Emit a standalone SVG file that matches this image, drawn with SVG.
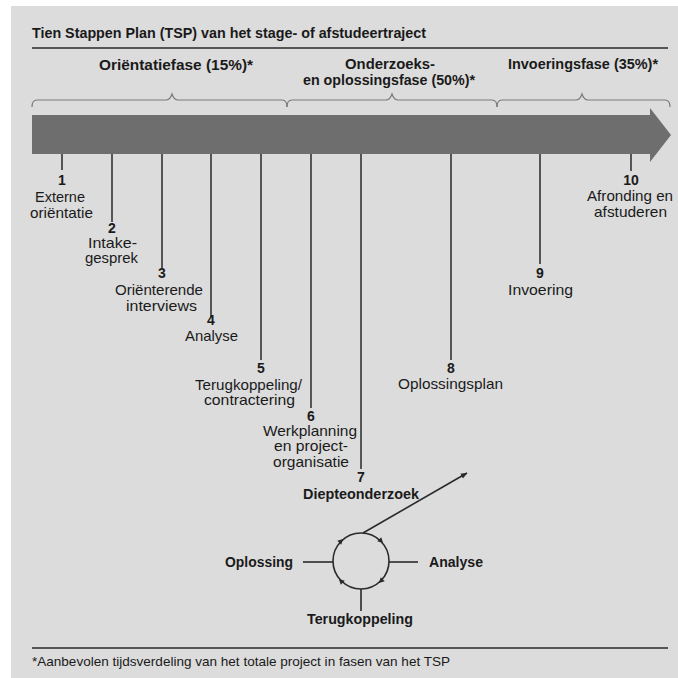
<svg xmlns="http://www.w3.org/2000/svg" width="678" height="678" viewBox="0 0 678 678">
<style>
text{font-family:"Liberation Sans","Noto Sans",sans-serif;fill:#1a1a1a}
.t{font-size:15px;font-weight:bold}
.l{font-size:14.5px}
.n{font-size:14px;font-weight:bold;text-anchor:middle}
.b{font-size:14.5px;font-weight:bold}
.f{font-size:13px}
.tick{stroke:#555;stroke-width:2;fill:none}
.brace{stroke:#7a7a7a;stroke-width:1.2;fill:none}
.rule{stroke:#555;stroke-width:2.2}
.cl{stroke:#2a2a2a;stroke-width:1.6;fill:none}
.ah{fill:#2a2a2a}
</style>
<defs>
<marker id="arr" viewBox="0 0 10 10" refX="9" refY="5" markerWidth="7" markerHeight="7" orient="auto" markerUnits="userSpaceOnUse">
<path d="M0,1 L10,5 L0,9 Z" fill="#2a2a2a"/>
</marker>
<path id="tri" d="M3,0 L-2.5,-2.8 L-2.5,2.8 Z"/>
</defs>
<rect x="0" y="0" width="678" height="678" fill="#ffffff"/>
<rect x="11" y="6" width="667" height="672" fill="#dcdcdc"/>

<g id="title">
<text class="t" x="32" y="38" textLength="394" lengthAdjust="spacingAndGlyphs">Tien Stappen Plan (TSP) van het stage- of afstudeertraject</text>
<line class="rule" x1="32" y1="48" x2="668" y2="48"/>
</g>

<g id="phases">
<text class="t" x="99" y="70" textLength="154" lengthAdjust="spacingAndGlyphs">Oriëntatiefase (15%)*</text>
<text class="t" x="345" y="69" textLength="90" lengthAdjust="spacingAndGlyphs">Onderzoeks-</text>
<text class="t" x="303" y="85" textLength="172" lengthAdjust="spacingAndGlyphs">en oplossingsfase (50%)*</text>
<text class="t" x="508" y="69" textLength="150" lengthAdjust="spacingAndGlyphs">Invoeringsfase (35%)*</text>
<path class="brace" d="M32,107 Q32,100 37,100 L166,100 Q170,100 172,94 Q174,100 178,100 L282,100 Q287,100 287,107"/>
<path class="brace" d="M287,107 Q287,100 292,100 L386,100 Q390,100 392,94 Q394,100 398,100 L492,100 Q497,100 497,107"/>
<path class="brace" d="M497,107 Q497,100 502,100 L576,100 Q580,100 582,94 Q584,100 588,100 L665,100 Q670,100 670,107"/>
</g>

<g id="timeline">
<polygon points="32,115 650,115 650,108 671,135 650,162 650,154 32,154" fill="#6e6e6e"/>
</g>

<g id="connectors">
<line class="tick" x1="62" y1="154" x2="62" y2="170"/>
<line class="tick" x1="112" y1="154" x2="112" y2="222"/>
<line class="tick" x1="162" y1="154" x2="162" y2="268"/>
<line class="tick" x1="211" y1="154" x2="211" y2="317"/>
<line class="tick" x1="261" y1="154" x2="261" y2="360"/>
<line class="tick" x1="311" y1="154" x2="311" y2="408"/>
<line class="tick" x1="361" y1="154" x2="361" y2="469"/>
<line class="tick" x1="451" y1="154" x2="451" y2="360"/>
<line class="tick" x1="540" y1="154" x2="540" y2="264"/>
<line class="tick" x1="631" y1="154" x2="631" y2="171"/>
<line class="cl" x1="363" y1="533" x2="467" y2="473" marker-end="url(#arr)"/>
<line class="cl" x1="303" y1="562" x2="333" y2="562"/>
<line class="cl" x1="389" y1="562" x2="418" y2="562"/>
<line class="cl" x1="361" y1="589" x2="361" y2="611"/>
</g>

<g id="step1">
<text class="n" x="62" y="185">1</text>
<text class="l" x="35" y="202" textLength="50" lengthAdjust="spacingAndGlyphs">Externe</text>
<text class="l" x="30" y="218" textLength="63" lengthAdjust="spacingAndGlyphs">oriëntatie</text>
</g>
<g id="step2">
<text class="n" x="112" y="233">2</text>
<text class="l" x="88" y="248" textLength="49" lengthAdjust="spacingAndGlyphs">Intake-</text>
<text class="l" x="85" y="263" textLength="53" lengthAdjust="spacingAndGlyphs">gesprek</text>
</g>
<g id="step3">
<text class="n" x="162" y="278">3</text>
<text class="l" x="115" y="295" textLength="88" lengthAdjust="spacingAndGlyphs">Oriënterende</text>
<text class="l" x="126" y="311" textLength="71" lengthAdjust="spacingAndGlyphs">interviews</text>
</g>
<g id="step4">
<text class="n" x="211" y="325">4</text>
<text class="l" x="185" y="341" textLength="53" lengthAdjust="spacingAndGlyphs">Analyse</text>
</g>
<g id="step5">
<text class="n" x="261" y="373">5</text>
<text class="l" x="195" y="390" textLength="107" lengthAdjust="spacingAndGlyphs">Terugkoppeling/</text>
<text class="l" x="204" y="405" textLength="91" lengthAdjust="spacingAndGlyphs">contractering</text>
</g>
<g id="step6">
<text class="n" x="311" y="421">6</text>
<text class="l" x="263" y="436" textLength="94" lengthAdjust="spacingAndGlyphs">Werkplanning</text>
<text class="l" x="274" y="451" textLength="74" lengthAdjust="spacingAndGlyphs">en project-</text>
<text class="l" x="273" y="467" textLength="76" lengthAdjust="spacingAndGlyphs">organisatie</text>
</g>
<g id="step7">
<text class="n" x="361" y="482">7</text>
<text class="b" x="303" y="499" textLength="116" lengthAdjust="spacingAndGlyphs">Diepteonderzoek</text>
</g>
<g id="step8">
<text class="n" x="451" y="373">8</text>
<text class="l" x="398" y="389" textLength="105" lengthAdjust="spacingAndGlyphs">Oplossingsplan</text>
</g>
<g id="step9">
<text class="n" x="540" y="278">9</text>
<text class="l" x="508" y="295" textLength="65" lengthAdjust="spacingAndGlyphs">Invoering</text>
</g>
<g id="step10">
<text class="n" x="631" y="185">10</text>
<text class="l" x="587" y="201" textLength="86" lengthAdjust="spacingAndGlyphs">Afronding en</text>
<text class="l" x="594" y="217" textLength="73" lengthAdjust="spacingAndGlyphs">afstuderen</text>
</g>

<g id="cycle">
<circle cx="361" cy="561" r="28" class="cl"/>
<use href="#tri" class="ah" transform="translate(381,541) rotate(45)"/>
<use href="#tri" class="ah" transform="translate(381,581) rotate(135)"/>
<use href="#tri" class="ah" transform="translate(341,581) rotate(225)"/>
<use href="#tri" class="ah" transform="translate(341,541) rotate(315)"/>
</g>
<g id="oplossing">
<text class="b" x="225" y="567" textLength="68" lengthAdjust="spacingAndGlyphs">Oplossing</text>
</g>
<g id="analyse">
<text class="b" x="429" y="567" textLength="54" lengthAdjust="spacingAndGlyphs">Analyse</text>
</g>
<g id="terugkoppeling">
<text class="b" x="307" y="624" textLength="106" lengthAdjust="spacingAndGlyphs">Terugkoppeling</text>
</g>

<g id="footer">
<line class="rule" x1="32" y1="648" x2="668" y2="648"/>
<text class="f" x="32" y="666" textLength="418" lengthAdjust="spacingAndGlyphs">*Aanbevolen tijdsverdeling van het totale project in fasen van het TSP</text>
</g>
</svg>
